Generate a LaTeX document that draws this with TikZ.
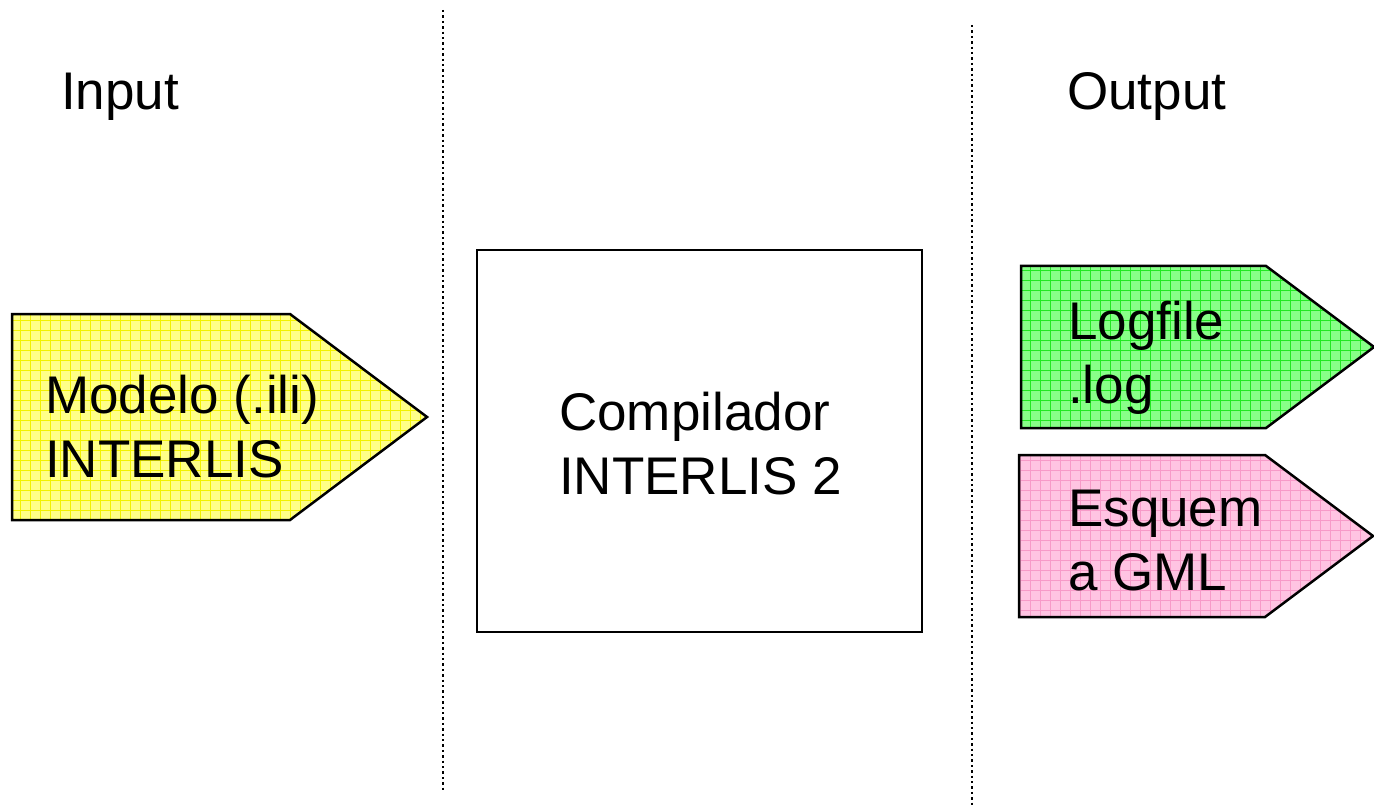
\documentclass[tikz,border=0pt]{standalone}
\usepackage{fontspec}
\setmainfont{Liberation Sans}
\newcommand\gridshape[3]{%
  \fill[#2] #1;
  \begin{scope}\clip #1; \draw[#3, line width=0.9pt, step=10pt] (0,0) grid (1380,805);\end{scope}
  \draw[line width=2.5pt, line join=miter] #1;}
\begin{document}
\begin{tikzpicture}[x=1pt,y=-1pt,
  lbl/.style={font=\fontsize{53}{64}\selectfont, inner sep=0pt, anchor=base west, align=left},
  sepline/.style={line width=2.4pt, dash pattern=on 2.4pt off 3pt}]
\definecolor{ybg}{HTML}{FFFF88}
\definecolor{yln}{HTML}{F2F200}
\definecolor{gbg}{HTML}{88FF88}
\definecolor{gln}{HTML}{22E822}
\definecolor{pbg}{HTML}{FFC4E2}
\definecolor{pln}{HTML}{F79AC8}
\useasboundingbox (0,0) rectangle (1374,805);
\fill[white] (0,0) rectangle (1374,805);
% separators
\coordinate (s1t) at (443,10); \coordinate (s1b) at (443,790);
\coordinate (s2t) at (972,25); \coordinate (s2b) at (972,805);
\draw[sepline] (s1t) -- (s1b);
\draw[sepline] (s2t) -- (s2b);
% input shape
\gridshape{(12,314) -- (290,314) -- (427,417) -- (290,520) -- (12,520) -- cycle}{ybg}{yln}
% output shapes
\gridshape{(1021,266) -- (1266,266) -- (1374,347) -- (1266,428) -- (1021,428) -- cycle}{gbg}{gln}
\gridshape{(1019,455) -- (1265,455) -- (1373,536) -- (1265,617) -- (1019,617) -- cycle}{pbg}{pln}
% compiler box
\draw[line width=2.5pt] (477,250) rectangle (922,632);
% labels (base anchor = baseline of last line)
\node[lbl] (input) at (61,110) {Input};
\node[lbl] (output) at (1067,110) {Output};
\node[lbl] (modelo) at (45,477) {Modelo (.ili)\\INTERLIS};
\node[lbl] (comp) at (559,494) {Compilador\\INTERLIS 2};
\node[lbl] (log) at (1068,403) {Logfile\\.log};
\node[lbl] (gml) at (1068,590) {Esquem\\a GML};
\end{tikzpicture}
\end{document}
